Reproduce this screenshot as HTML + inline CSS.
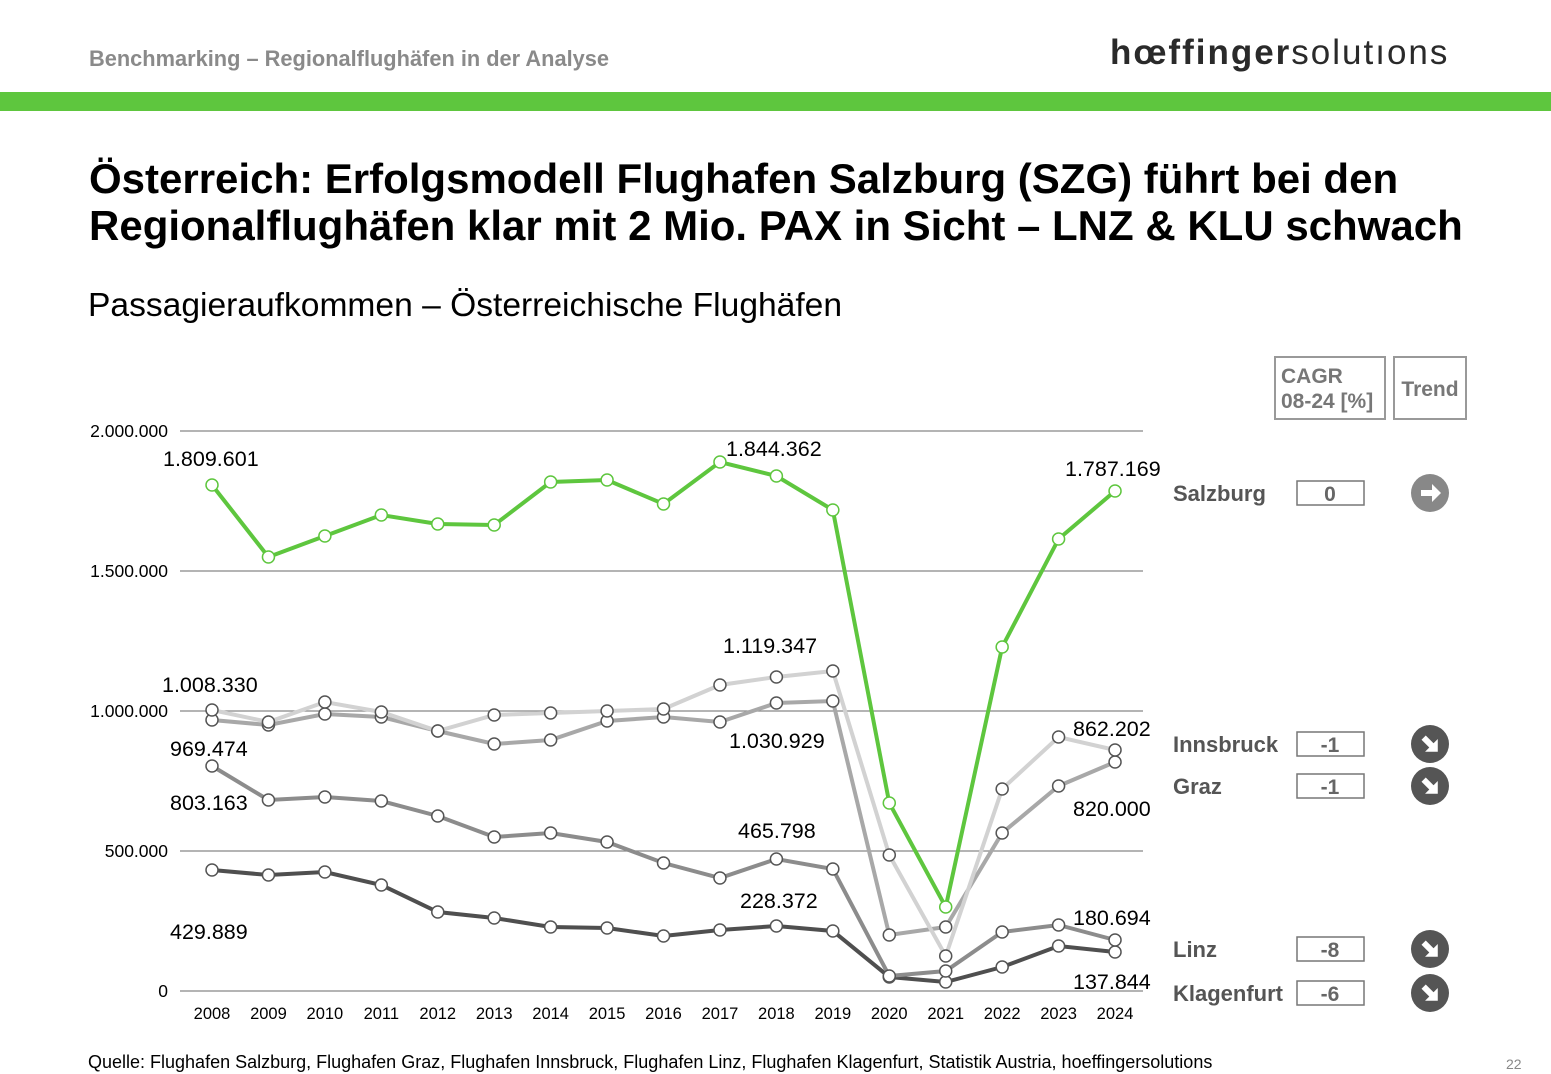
<!DOCTYPE html>
<html><head><meta charset="utf-8"><style>
body{margin:0;width:1551px;height:1074px;background:#fff;font-family:"Liberation Sans",sans-serif;overflow:hidden;position:relative}
.a{position:absolute;white-space:nowrap}
</style></head><body>
<div class="a" style="left:89px;top:46px;font-size:21.8px;font-weight:bold;color:#8a8a8a">Benchmarking – Regionalflughäfen in der Analyse</div>
<div class="a" style="left:1110px;top:33px;font-size:35px;color:#2a2a2a;letter-spacing:2px"><b>hœffinger</b>solutıons</div>
<div class="a" style="left:0;top:92px;width:1551px;height:19px;background:#5ec63e"></div>
<div class="a" style="left:89px;top:155px;font-size:42px;font-weight:bold;color:#000;line-height:47px">Österreich: Erfolgsmodell Flughafen Salzburg (SZG) führt bei den<br>Regionalflughäfen klar mit 2 Mio. PAX in Sicht – LNZ &amp; KLU schwach</div>
<div class="a" style="left:88px;top:287px;font-size:33.6px;color:#000">Passagieraufkommen – Österreichische Flughäfen</div>
<div class="a" style="left:88px;top:1052px;font-size:18px;color:#000">Quelle: Flughafen Salzburg, Flughafen Graz, Flughafen Innsbruck, Flughafen Linz, Flughafen Klagenfurt, Statistik Austria, hoeffingersolutions</div>
<div class="a" style="left:1506px;top:1056px;font-size:14px;color:#888">22</div>
<svg id="s" class="a" style="left:0;top:0" width="1551" height="1074"></svg>
<script>
const s=document.getElementById('s');let h='';
const F='font-family="Liberation Sans,sans-serif"';
[[431,'2.000.000'],[571,'1.500.000'],[711,'1.000.000'],[851,'500.000']].forEach(([y,t])=>{h+=`<line x1="180" x2="1143" y1="${y}" y2="${y}" stroke="#888" stroke-width="1.3"/><text x="168" y="${y+6}" text-anchor="end" font-size="17.5" ${F}>${t}</text>`});
h+=`<line x1="180" x2="1143" y1="991" y2="991" stroke="#888" stroke-width="1.3"/><text x="168" y="997" text-anchor="end" font-size="17.5" ${F}>0</text>`;
const X=i=>212+i*56.44;
for(let i=0;i<17;i++)h+=`<text x="${X(i)}" y="1019" text-anchor="middle" font-size="16.5" ${F}>${2008+i}</text>`;
const ser=[
['#4f4f4f',[870,875,872,885,912,918,927,928,936,930,926,931,977,982,967,946,952]],
['#8c8c8c',[766,800,797,801,816,837,833,842,863,878,859,869,976,971,932,925,940]],
['#a8a8a8',[720,725,714,717,731,744,740,721,717,722,703,701,935,927,833,786,762]],
['#d2d2d2',[710,722,702,712,731,715,713,711,709,685,677,671,855,956,789,737,750]],
['#5ec63e',[485,557,536,515,524,525,482,480,504,462,476,510,803,907,647,539,491]]];
ser.forEach(([c,d])=>{h+=`<polyline fill="none" stroke="${c}" stroke-width="4" points="${d.map((y,i)=>X(i)+','+y).join(' ')}"/>`;
d.forEach((y,i)=>{h+=`<circle cx="${X(i)}" cy="${y}" r="6" fill="#fff" stroke="${c=='#5ec63e'?c:'#555'}" stroke-width="1.5"/>`})});
[[163,466,'1.809.601'],[726,456,'1.844.362'],[1065,476,'1.787.169'],[723,653,'1.119.347'],[162,692,'1.008.330'],[1073,736,'862.202'],[170,756,'969.474'],[729,748,'1.030.929'],[170,810,'803.163'],[1073,816,'820.000'],[738,838,'465.798'],[170,939,'429.889'],[740,908,'228.372'],[1073,925,'180.694'],[1073,989,'137.844']].forEach(([x,y,t])=>h+=`<text x="${x}" y="${y}" font-size="21.5" ${F}>${t}</text>`);
h+=`<rect x="1275" y="357" width="110" height="62" fill="none" stroke="#999" stroke-width="2"/><text x="1281" y="383" font-size="21" font-weight="bold" fill="#777" ${F}>CAGR</text><text x="1281" y="408" font-size="21" font-weight="bold" fill="#777" ${F}>08-24 [%]</text>`;
h+=`<rect x="1394" y="357" width="72" height="62" fill="none" stroke="#999" stroke-width="2"/><text x="1430" y="396" text-anchor="middle" font-size="21" font-weight="bold" fill="#777" ${F}>Trend</text>`;
[['Salzburg',493,'0',0],['Innsbruck',744,'-1',1],['Graz',786,'-1',1],['Linz',949,'-8',1],['Klagenfurt',993,'-6',1]].forEach(([n,y,v,dn])=>{
h+=`<text x="1173" y="${y+8}" font-size="22" font-weight="bold" fill="#555" ${F}>${n}</text><rect x="1297" y="${y-12}" width="67" height="24" fill="none" stroke="#777" stroke-width="1.5"/><text x="1330" y="${y+8}" text-anchor="middle" font-size="21" font-weight="bold" fill="#666" ${F}>${v}</text>`;
const c=dn?'#555':'#888';
h+=`<g transform="translate(1430,${y}) rotate(${dn?45:0})"><circle r="19" fill="${c}"/><path d="M-9,-3 H2 V-9 L11,0 L2,9 V3 H-9 Z" fill="#fff"/></g>`;});
s.innerHTML=h;
</script>
</body></html>
